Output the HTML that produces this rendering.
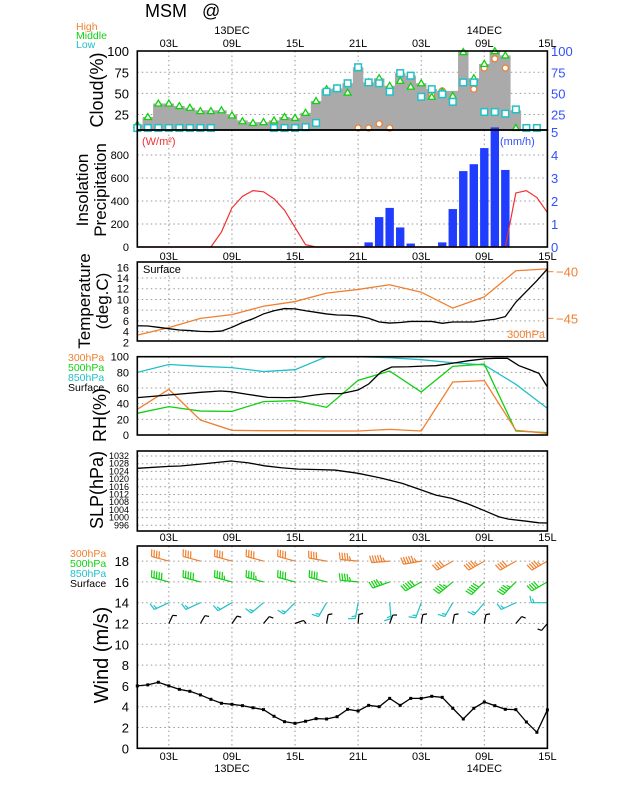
<!DOCTYPE html>
<html><head><meta charset="utf-8"><style>
body{margin:0;background:#fff;}
svg{display:block;font-family:"Liberation Sans",sans-serif;}
</style></head><body>
<svg id="chart" width="618" height="800" viewBox="0 0 618 800" xmlns="http://www.w3.org/2000/svg">
<text x="145" y="17" font-size="18">MSM&#160;&#160;&#160;@</text>
<g id="g"></g>
</svg>
<script>
// ---------- data ----------
const timeLabels=["03L","09L","15L","21L","03L","09L","15L"];
const timeLabelHours=[3,9,15,21,27,33,39];
const cloudTotal=[13,22,38,38,35,33,30,30,30,25,18,16,16,18,22,21,27,41,55,56,62,81,63,68,59,74,71,62,55,53,53,100,68,85,100,95,30,0];
const cloudMiddle=[13,22,38,38,35,33,29,29,30,24,17,15,16,18,22,21,27,41,55,56,51,80,63,68,59,65,58,62,46,52,47,99,68,85,100,95,2,null];
const cloudLow=[5,5,5,5,6,6,5,4,null,null,null,null,null,3,9,9,10,15,52,56,62,81,63,62,52,74,71,46,55,49,40,63,63,28,28,26,31,1,1];
const cloudHigh=[null,null,null,null,null,null,null,null,null,null,null,null,null,null,null,null,null,null,null,null,null,0,3,14,6,null,null,null,48,53,null,null,55,80,91,80,null,null];
const insolation=[0,0,0,0,0,0,0,0,130,340,440,490,480,420,320,170,20,0,0,0,0,0,0,0,0,0,0,0,0,0,0,0,0,0,0,0,470,490,430,300];
const precipHours=[22,23,24,25,26,29,30,31,32,33,34,35];
const precipValues=[0.2,1.3,1.7,0.85,0.15,0.2,1.65,3.3,3.6,4.3,5.2,3.35];
const tempSurface=[5.1,5.05,4.8,4.55,4.3,4.2,4.05,4.0,4.1,4.8,5.7,6.4,7.3,7.9,8.3,8.25,7.9,7.6,7.3,7.1,7.05,6.9,6.5,5.8,5.6,5.7,5.9,5.9,5.9,5.55,5.8,5.8,5.8,6.1,6.3,6.8,9.5,11.5,13.5,15.7];
const t300Hours=[0,3,6,9,12,15,18,21,24,27,30,33,36,39];
const t300=[-46.8,-46.0,-45.0,-44.6,-43.7,-43.2,-42.3,-41.9,-41.4,-42.2,-43.9,-42.7,-39.9,-39.7];
const rh3Hours=[0,3,6,9,12,15,18,21,24,27,30,33,36,39];
const rh850=[80,90,87.7,86,81,83.4,100,100,98.7,96.2,92.3,89.4,64.7,34];
const rh500=[27.7,36.2,30.6,30.2,42.6,43.8,35.3,69.8,81.7,54.9,87.7,90.6,5.1,3];
const rh300=[32.8,58.3,19.1,6,5.5,5.5,5.1,5.1,7.2,5.1,67.7,69.4,6,2];
const rhSfcHours=[0,3,6,7.9,8.9,10.5,12.4,14.3,15.6,16.9,18.1,19.4,21,22,23.2,24.2,25.8,27.4,28.4,29.9,31.5,33.1,34.1,35.2,36.3,37.4,38.2,39];
const rhSfc=[47.7,51.1,54.5,56.2,55.3,51.9,48.1,47.7,48.5,51.1,52.8,52.8,57.4,65.1,80.9,86.8,87.2,88.1,88.5,91.5,94.9,97.4,97.9,97.9,88.5,83,78.7,61.3];
const slpHours=[0,3,4.1,6,8.9,10.5,12.1,13.7,15.3,16.9,18.8,21,23.3,25.2,26.4,28.4,29.9,31.5,33.1,34.4,35.3,36.9,38.2,39];
const slp=[1025.6,1026.6,1026.8,1027.8,1029.4,1028.5,1026.9,1025.9,1025.2,1025.0,1024.7,1023.0,1020.4,1017.8,1015.5,1011.7,1010.0,1007.0,1003.4,1000.4,999.2,998.2,997.3,997.2];
const windSpeed=[6.0,6.1,6.35,6.0,5.67,5.48,5.13,4.71,4.33,4.23,4.1,3.9,3.72,3.08,2.56,2.4,2.6,2.85,2.82,3.04,3.75,3.59,4.13,4.0,4.8,4.13,4.8,4.8,5.0,4.9,3.85,2.82,3.85,4.45,4.1,3.75,3.72,2.53,1.54,3.69];
const barbHours=[3,6,9,12,15,18,21,24,27,30,33,36,39];
const dir300=[285,285,285,285,285,280,275,265,260,240,240,240,240];
const spd300=[40,40,40,40,40,40,45,55,55,40,45,40,45];
const dir500=[285,285,285,285,285,285,275,250,240,230,225,225,240];
const spd500=[50,50,45,45,40,40,45,45,50,45,50,45,40];
const dir850=[245,245,240,230,225,210,190,175,200,210,220,245,270];
const spd850=[15,15,15,15,15,15,15,15,15,15,15,15,15];
const dirSfc=[25,30,35,40,70,10,5,20,10,10,10,40,220];
const spdSfc=[5,5,5,5,5,5,5,5,5,5,5,5,5];

// ---------- helpers ----------
const NS="http://www.w3.org/2000/svg";
const G=document.getElementById('g');
const L=137.3,R=547.4;
const X=h=>L+(R-L)*h/39;
function el(tag,attrs,parent){const e=document.createElementNS(NS,tag);for(const k in attrs)e.setAttribute(k,attrs[k]);(parent||G).appendChild(e);return e;}
function txt(x,y,s,size,fill,anchor,name){const t=el('text',{x:x,y:y,'font-size':size,fill:fill||'#000','text-anchor':anchor||'start'});t.textContent=s;


return t;}
function vtitle(x,y,s,size,name){const t=el('text',{x:0,y:0,'font-size':size,'text-anchor':'middle',transform:`translate(${x},${y}) rotate(-90)`});t.textContent=s;

}
function grid(top,bot,ys,name){
 const g=el('g',{stroke:'#999','stroke-width':1,'stroke-dasharray':'1.5,3'});
 
 
 ys.forEach(y=>el('line',{x1:L,x2:R,y1:y,y2:y},g));
 timeLabelHours.slice(0,6).forEach(h=>el('line',{x1:X(h),x2:X(h),y1:top,y2:bot},g));
}
function frame(top,bot,name){const r=el('rect',{x:L,y:top,width:R-L,height:bot-top,fill:'none',stroke:'#000','stroke-width':1.6});

}
function timeAxis(y,name){timeLabelHours.forEach((h,i)=>{txt(X(h),y,timeLabels[i],11,'#000','middle',name+'-label');});}
function poly(xs,ys,color,name,w){const p=el('polyline',{points:xs.map((x,i)=>x+','+ys[i]).join(' '),fill:'none',stroke:color,'stroke-width':w||1.3});

}

// ---------- cloud panel ----------
const cT=51,cB=130,yC=v=>135.6-0.844*v;
grid(cT,cB,[75,50,25].map(yC),'cloud-grid');
let d='M'+L+','+cB;
cloudTotal.forEach((v,i)=>{const x0=Math.max(L,X(i)-5.26),x1=Math.min(R,X(i)+5.26);const y=Math.min(cB,yC(v));d+=` L${x0},${y} L${x1},${y}`;});
d+=` L${X(cloudTotal.length-1)+5},${cB} Z`;
const area=el('path',{d:d,fill:'#aaaaaa'});


cloudHigh.forEach((v,i)=>{if(v==null)return;const c=el('circle',{cx:X(i),cy:Math.min(cB-2,yC(v)),r:3,fill:'#fff',stroke:'#f08030','stroke-width':1.3});

});
cloudMiddle.forEach((v,i)=>{if(v==null)return;const x=X(i),y=Math.min(cB-2,yC(v));const t=el('polygon',{points:`${x},${y-3.5} ${x-3.5},${y+2.5} ${x+3.5},${y+2.5}`,fill:'#fff',stroke:'#10d010','stroke-width':1.3});

});
cloudLow.forEach((v,i)=>{if(v==null)return;const x=X(i),y=Math.min(cB-2,yC(v));const s=el('rect',{x:x-3.3,y:y-3.3,width:6.6,height:6.6,fill:'#fff',stroke:'#20c0c8','stroke-width':1.5});

});
[100,75,50,25].forEach(v=>{txt(129,yC(v)+5,String(v),13,'#000','end','cloud-tick');txt(551,yC(v)+5,String(v),13,'#3050ff','start','cloud-right-tick');});
vtitle(103,90,'Cloud(%)',18,'cloud-axis-title');
txt(76,30,'High',10.5,'#f08030','start','legend-high');
txt(76,39,'Middle',10.5,'#10d010','start','legend-middle');
txt(76,48,'Low',10.5,'#20c0c8','start','legend-low');
timeAxis(47,'top-time');
txt(X(9),34,'13DEC',11,'#000','middle','date-13dec');
txt(X(33),34,'14DEC',11,'#000','middle','date-14dec');

// ---------- insolation / precipitation ----------
const iT=130,iB=247,yI=v=>247-0.115*v,yP=v=>247-23*v;
grid(iT,iB,[1,2,3,4].map(yP),'insolation-grid');
precipValues.forEach((v,i)=>{const b=el('rect',{x:X(precipHours[i])-4.2,y:yP(v),width:8.4,height:247-yP(v),fill:'#1f3cff'});

});
poly(insolation.map((v,i)=>X(i)),insolation.map(yI),'#f03030','insolation-line',1.2);
[0,200,400,600,800].forEach(v=>txt(129,yI(v)+4,String(v),11,'#000','end','insolation-tick'));
[0,1,2,3,4,5].forEach(v=>txt(551,yP(v)+5,String(v),13,'#3050ff','start','precip-tick'));
txt(142,145,'(W/m²)',11,'#f03030','start','insolation-unit');
txt(500,145,'(mm/h)',11,'#3050ff','start','precip-unit');
vtitle(88,190,'Insolation',17,'insolation-axis-title');
vtitle(106,190,'Precipitation',17,'precip-axis-title');
timeAxis(260,'mid-time');

// ---------- temperature ----------
const tT=262,tB=341,yT=v=>267.3+(16-v)*5.36,yT3=v=>271.7+(-40-v)*9.33;
grid(tT,tB,[14,12,10,8,6,4].map(yT),'temp-grid');
poly(t300.map((v,i)=>X(t300Hours[i])),t300.map(yT3),'#f08030','temp-300hpa-line');
poly(tempSurface.map((v,i)=>X(i)),tempSurface.map(yT),'#000','temp-surface-line');
[16,14,12,10,8,6,4,2].forEach(v=>txt(129,yT(v)+4,String(v),11,'#000','end','temp-tick'));
[-40,-45].forEach(v=>{el('line',{x1:R,x2:R+6,y1:yT3(v),y2:yT3(v),stroke:'#f08030'});txt(556,yT3(v)+5,'\u2212'+(-v),13,'#f08030','start','temp-300-tick');});
txt(143,273,'Surface',11,'#000','start','temp-surface-label');
txt(545,338,'300hPa',11,'#f08030','end','temp-300-label');
vtitle(90,301,'Temperature',17,'temp-axis-title');
vtitle(108,301,'(deg.C)',17,'temp-axis-unit');

// ---------- RH ----------
const rT=356.7,rB=435,yR=v=>435-0.783*v;
grid(rT,rB,[80,60,40,20].map(yR),'rh-grid');
poly(rh850.map((v,i)=>X(rh3Hours[i])),rh850.map(yR),'#20c0c8','rh-850-line');
poly(rh500.map((v,i)=>X(rh3Hours[i])),rh500.map(yR),'#10d010','rh-500-line');
poly(rh300.map((v,i)=>X(rh3Hours[i])),rh300.map(yR),'#f08030','rh-300-line');
poly(rhSfc.map((v,i)=>X(rhSfcHours[i])),rhSfc.map(yR),'#000','rh-surface-line');
[100,80,60,40,20,0].forEach(v=>txt(129,yR(v)+4,String(v),11,'#000','end','rh-tick'));
txt(68,361,'300hPa',10.5,'#f08030','start','rh-legend-300');
txt(68,371,'500hPa',10.5,'#10d010','start','rh-legend-500');
txt(68,381,'850hPa',10.5,'#20c0c8','start','rh-legend-850');
txt(68,391,'Surface',10.5,'#000','start','rh-legend-surface');
vtitle(106,415,'RH(%)',18,'rh-axis-title');

// ---------- SLP ----------
const sT=451,sB=531,yS=v=>456+(1032-v)*1.925;
grid(sT,sB,[1032,1028,1024,1020,1016,1012,1008,1004,1000,996].map(yS),'slp-grid');
poly(slp.map((v,i)=>X(slpHours[i])),slp.map(yS),'#000','slp-line');
[1032,1028,1024,1020,1016,1012,1008,1004,1000,996].forEach(v=>txt(129,yS(v)+3,String(v),9,'#000','end','slp-tick'));
vtitle(103,490,'SLP(hPa)',18,'slp-axis-title');
timeAxis(541,'slp-time');

// ---------- wind ----------
const wT=546,wB=748.3,yW=v=>748.3-10.4*v;
grid(wT,wB,[18,16,14,12,10,8,6,4,2].map(yW),'wind-grid');
poly(windSpeed.map((v,i)=>X(i)),windSpeed.map(yW),'#000','wind-speed-line');
windSpeed.forEach((v,i)=>{const p=el('rect',{x:X(i)-1.5,y:yW(v)-1.5,width:3,height:3,fill:'#000'});

});
function barbs(dirs,spds,base,color,name,len){
 dirs.forEach((dd,i)=>{
  const x=X(barbHours[i]),y=yW(base);const a=dd*Math.PI/180;
  const ux=Math.sin(a),uy=-Math.cos(a);
  const tx=x+ux*len,ty=y+uy*len;
  const g=el('g',{stroke:color,'stroke-width':1.2,fill:'none'});
  
  
  el('line',{x1:x,y1:y,x2:tx,y2:ty},g);
  let s=spds[i];let k=0;const px=-uy,py=ux;
  while(s>=5){const full=s>=10;const bl=full?7:4;
   const bx=tx-ux*k*2.6,by=ty-uy*k*2.6;
   el('line',{x1:bx,y1:by,x2:bx+px*bl+ux*1.5,y2:by+py*bl+uy*1.5},g);
   s-=full?10:5;k++;}
 });
}
barbs(dir300,spd300,18,'#f08030','wind-barb-300hpa',18);
barbs(dir500,spd500,16,'#10d010','wind-barb-500hpa',18);
barbs(dir850,spd850,14,'#20c0c8','wind-barb-850hpa',16);
barbs(dirSfc,spdSfc,12,'#000','wind-barb-surface',9);
[18,16,14,12,10,8,6,4,2,0].forEach(v=>txt(129,yW(v)+5,String(v),13,'#000','end','wind-tick'));
txt(70,557,'300hPa',10.5,'#f08030','start','wind-legend-300');
txt(70,567,'500hPa',10.5,'#10d010','start','wind-legend-500');
txt(70,577,'850hPa',10.5,'#20c0c8','start','wind-legend-850');
txt(70,587,'Surface',10.5,'#000','start','wind-legend-surface');
vtitle(108,655,'Wind  (m/s)',20,'wind-axis-title');
timeAxis(760,'bottom-time');
txt(X(9),772,'13DEC',11,'#000','middle','bottom-date-13dec');
txt(X(33),772,'14DEC',11,'#000','middle','bottom-date-14dec');

frame(cT,cB,'cloud-frame');frame(iT,iB,'insolation-frame');frame(tT,tB,'temp-frame');
frame(rT,rB,'rh-frame');frame(sT,sB,'slp-frame');frame(wT,wB,'wind-frame');
</script>
</body></html>
